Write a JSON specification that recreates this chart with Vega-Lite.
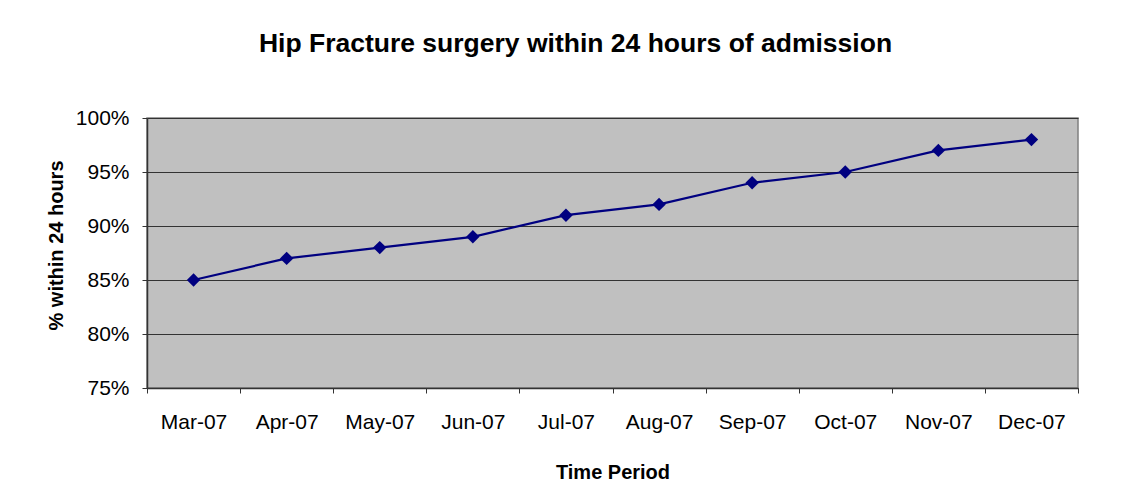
{
  "$schema": "https://vega.github.io/schema/vega-lite/v6.json",
  "width": 931,
  "height": 270,
  "autosize": {"type": "none"},
  "padding": {"left": 147, "top": 118, "right": 48, "bottom": 105},
  "background": "white",
  "title": {
    "text": "Hip Fracture surgery within 24 hours of admission",
    "font": "Liberation Sans",
    "fontSize": 26.5,
    "fontWeight": "bold",
    "color": "black",
    "anchor": "middle",
    "offset": 50,
    "dx": -37
  },
  "config": {
    "view": {"fill": "#C0C0C0", "stroke": "#808080", "strokeWidth": 1.5},
    "axis": {
      "labelFont": "Liberation Sans",
      "labelFontSize": 21,
      "labelColor": "black",
      "titleFont": "Liberation Sans",
      "titleFontSize": 20,
      "titleFontWeight": "bold",
      "titleColor": "black",
      "domainColor": "#333333",
      "domainWidth": 1.5,
      "tickColor": "#333333",
      "tickSize": 5
    }
  },
  "data": {
    "values": [
      {"month": "Mar-07", "pct": 0.85},
      {"month": "Apr-07", "pct": 0.87},
      {"month": "May-07", "pct": 0.88},
      {"month": "Jun-07", "pct": 0.89},
      {"month": "Jul-07", "pct": 0.91},
      {"month": "Aug-07", "pct": 0.92},
      {"month": "Sep-07", "pct": 0.94},
      {"month": "Oct-07", "pct": 0.95},
      {"month": "Nov-07", "pct": 0.97},
      {"month": "Dec-07", "pct": 0.98}
    ]
  },
  "encoding": {
    "x": {
      "field": "month",
      "type": "ordinal",
      "sort": null,
      "scale": {"paddingInner": 0, "paddingOuter": 0},
      "axis": {
        "title": "Time Period",
        "labelAngle": 0,
        "labelPadding": 18,
        "tickBand": "extent",
        "grid": false,
        "titleY": 90,
        "titleBaseline": "alphabetic"
      }
    },
    "y": {
      "field": "pct",
      "type": "quantitative",
      "scale": {"domain": [0.75, 1.0], "nice": false, "zero": false},
      "axis": {
        "title": "% within 24 hours",
        "format": ".0%",
        "values": [0.75, 0.8, 0.85, 0.9, 0.95, 1.0],
        "grid": true,
        "gridColor": "#333333",
        "gridWidth": 1,
        "labelPadding": 13,
        "titleX": -85,
        "titleY": 127,
        "titleAngle": -90,
        "titleAlign": "center",
        "titleBaseline": "alphabetic"
      }
    }
  },
  "layer": [
    {"mark": {"type": "line", "color": "#000080", "strokeWidth": 2.2}},
    {"mark": {"type": "point", "shape": "diamond", "filled": true, "color": "#000080", "size": 180, "opacity": 1}}
  ]
}
